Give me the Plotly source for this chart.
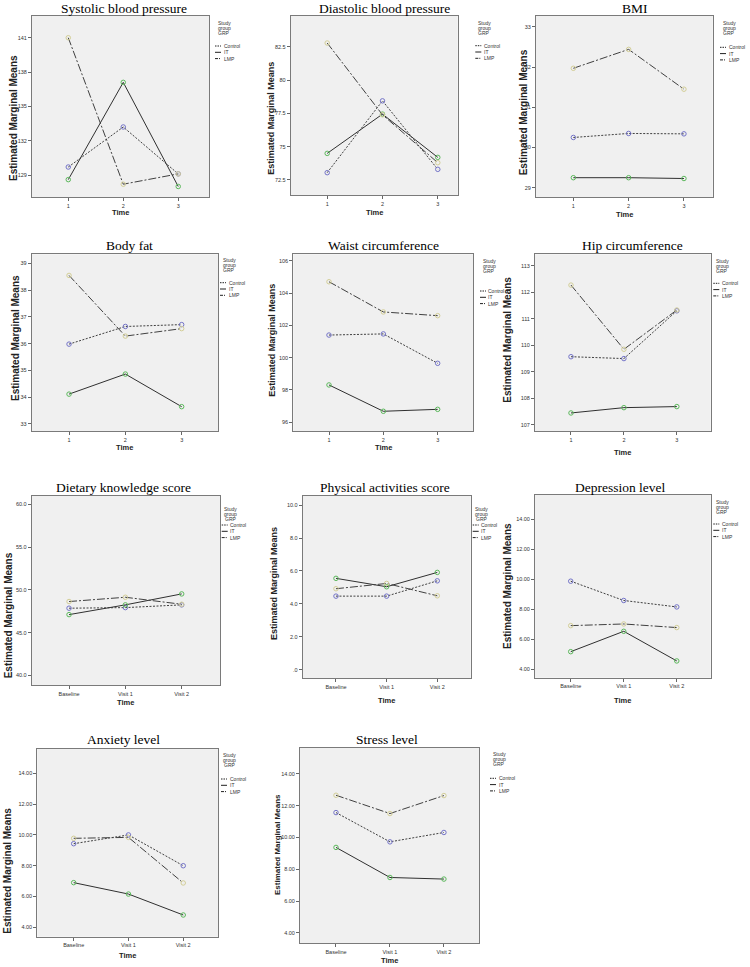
import plotly.graph_objects as go

W, H = 750, 967

# ---------------- data ----------------
titles = ["Systolic blood pressure", "Diastolic blood pressure", "BMI",
          "Body fat", "Waist circumference", "Hip circumference",
          "Dietary knowledge score", "Physical activities score", "Depression level",
          "Anxiety level", "Stress level"]
groups = ["Control", "IT", "LMP"]
time_num = ["1", "2", "3"]
time_visit = ["Baseline", "Visit 1", "Visit 2"]

sbp_control = [129.7, 133.2, 129.1]
sbp_it = [128.6, 137.1, 128.0]
sbp_lmp = [141.0, 128.2, 129.1]

dbp_control = [73.05, 78.45, 73.3]
dbp_it = [74.5, 77.45, 74.2]
dbp_lmp = [82.8, 77.4, 73.8]

bmi_control = [30.25, 30.35, 30.34]
bmi_it = [29.25, 29.25, 29.23]
bmi_lmp = [31.97, 32.44, 31.45]

fat_control = [35.98, 36.64, 36.71]
fat_it = [34.11, 34.86, 33.64]
fat_lmp = [38.55, 36.28, 36.56]

waist_control = [101.4, 101.47, 99.65]
waist_it = [98.31, 96.68, 96.8]
waist_lmp = [104.7, 102.83, 102.6]

hip_control = [109.57, 109.5, 111.3]
hip_it = [107.45, 107.65, 107.69]
hip_lmp = [112.27, 109.85, 111.33]

diet_control = [47.85, 47.92, 48.24]
diet_it = [47.1, 48.24, 49.52]
diet_lmp = [48.63, 49.13, 48.31]

phys_control = [4.47, 4.47, 5.40]
phys_it = [5.55, 5.04, 5.91]
phys_lmp = [4.92, 5.24, 4.49]

dep_control = [9.87, 8.58, 8.15]
dep_it = [5.16, 6.52, 4.54]
dep_lmp = [6.9, 7.01, 6.77]

anx_control = [9.43, 10.0, 8.0]
anx_it = [6.9, 6.16, 4.8]
anx_lmp = [9.78, 9.84, 6.88]

str_control = [11.57, 9.73, 10.32]
str_it = [9.38, 7.49, 7.39]
str_lmp = [12.66, 11.51, 12.64]

sbp_ticks = [129, 132, 135, 138, 141]
dbp_ticks = [72.5, 75, 77.5, 80, 82.5]
bmi_ticks = [29, 30, 31, 32, 33]
fat_ticks = [33, 34, 35, 36, 37, 38, 39]
waist_ticks = [96, 98, 100, 102, 104, 106]
hip_ticks = [107, 108, 109, 110, 111, 112, 113]
diet_ticks = [40, 45, 50, 55, 60]
phys_ticks = [0, 2, 4, 6, 8, 10]
score_ticks = [4, 6, 8, 10, 12, 14]

sbp_labels = ["129", "132", "135", "138", "141"]
dbp_labels = ["72.5", "75", "77.5", "80", "82.5"]
diet_labels = ["40.0", "45.0", "50.0", "55.0", "60.0"]
phys_labels = [".0", "2.0", "4.0", "6.0", "8.0", "10.0"]
score_labels = ["4.00", "6.00", "8.00", "10.00", "12.00", "14.00"]

series = [
    (sbp_control, sbp_it, sbp_lmp, sbp_ticks, sbp_labels, time_num),
    (dbp_control, dbp_it, dbp_lmp, dbp_ticks, dbp_labels, time_num),
    (bmi_control, bmi_it, bmi_lmp, bmi_ticks, [str(v) for v in bmi_ticks], time_num),
    (fat_control, fat_it, fat_lmp, fat_ticks, [str(v) for v in fat_ticks], time_num),
    (waist_control, waist_it, waist_lmp, waist_ticks, [str(v) for v in waist_ticks], time_num),
    (hip_control, hip_it, hip_lmp, hip_ticks, [str(v) for v in hip_ticks], time_num),
    (diet_control, diet_it, diet_lmp, diet_ticks, diet_labels, time_visit),
    (phys_control, phys_it, phys_lmp, phys_ticks, phys_labels, time_visit),
    (dep_control, dep_it, dep_lmp, score_ticks, score_labels, time_visit),
    (anx_control, anx_it, anx_lmp, score_ticks, score_labels, time_visit),
    (str_control, str_it, str_lmp, score_ticks, score_labels, time_visit),
]

# ---------------- layout (pixel geometry) ----------------
# box = (left, top, right, bottom) in px
panels = [
    dict(box=(32, 16, 209, 197), xr=(0.34, 3.56), yr=(127.08, 142.9), tt=(123.7, 8), yt=(14, 118, 10), tm=213, lg=(215, 23.3, 46)),
    dict(box=(290.7, 16, 457.7, 195), xr=(0.34, 3.36), yr=(71.37, 84.83), tt=(384, 8), yt=(270.7, 118, 9), tm=213, lg=(475.3, 23.3, 45.7)),
    dict(box=(536, 16, 712.7, 197), xr=(0.325, 3.52), yr=(28.77, 33.27), tt=(635, 8), yt=(523.3, 112, 10), tm=215, lg=(720, 23.3, 47.3)),
    dict(box=(31.7, 254.3, 218, 431), xr=(0.337, 3.645), yr=(32.73, 39.34), tt=(129.5, 245), yt=(15, 338, 10), tm=448, lg=(220, 260, 282.7)),
    dict(box=(293.3, 254.3, 473.3, 431.3), xr=(0.343, 3.656), yr=(95.44, 106.4), tt=(383.3, 245), yt=(271.7, 340, 9), tm=448, lg=(480, 260.7, 291)),
    dict(box=(535, 254.3, 710.7, 431), xr=(0.32, 3.64), yr=(106.77, 113.43), tt=(632.5, 245), yt=(506.7, 340, 10), tm=453, lg=(713.3, 260.7, 283.3)),
    dict(box=(31.7, 496, 220, 685), xr=(0.337, 3.68), yr=(38.87, 60.97), tt=(123.8, 487), yt=(8.3, 615, 10), tm=702, lg=(221.7, 509, 525)),
    dict(box=(302.7, 496, 470.7, 678), xr=(0.343, 3.66), yr=(-0.5, 10.55), tt=(384.7, 487), yt=(274, 584, 9), tm=700, lg=(472.7, 509, 525)),
    dict(box=(535, 495, 710.7, 677.7), xr=(0.326, 3.64), yr=(3.42, 15.63), tt=(620.7, 487), yt=(507, 586, 10), tm=700, lg=(713.3, 501.7, 524)),
    dict(box=(37.3, 749, 218.3, 936.7), xr=(0.336, 3.64), yr=(3.39, 15.58), tt=(123.8, 739), yt=(6.7, 871, 10), tm=955, lg=(221, 755, 779)),
    dict(box=(300, 747.7, 479, 943), xr=(0.333, 3.65), yr=(3.37, 15.65), tt=(387, 739), yt=(277, 845, 8), tm=960, lg=(490, 754.3, 778.3)),
]

LINE_STYLES = {
    "Control": dict(dash="2px,1.5px", color="#404040", mcolor="#7474c8", leg="1.5px,1px"),
    "IT": dict(dash="solid", color="#303030", mcolor="#5cb85c", leg="solid"),
    "LMP": dict(dash="8px,2px,2px,2px", color="#404040", mcolor="#d3ce97", leg="3px,1px,1px,1px"),
}

SANS = "Liberation Sans, Arial, sans-serif"
SERIF = "Liberation Serif, Times New Roman, serif"


def px(x):
    return x / W


def py(y):
    return 1 - y / H


fig = go.Figure()
layout = dict(width=W, height=H, margin=dict(l=0, r=0, t=0, b=0),
              paper_bgcolor="white", plot_bgcolor="#f0f0f0", showlegend=False)
annotations = []
shapes = []

for i, (pan, ser, title) in enumerate(zip(panels, series, titles)):
    k = "" if i == 0 else str(i + 1)
    l, t, r, b = pan["box"]
    ctrl, it, lmp, yticks, ylabels, xlabels = ser
    for name, vals in zip(groups, (ctrl, it, lmp)):
        st = LINE_STYLES[name]
        fig.add_trace(go.Scatter(
            x=[1, 2, 3], y=vals, mode="lines+markers", name=name,
            xaxis="x" + k, yaxis="y" + k,
            line=dict(color=st["color"], width=1, dash=st["dash"]),
            marker=dict(symbol="circle-open", size=4.5, color=st["mcolor"],
                        line=dict(width=1, color=st["mcolor"])),
            hoverinfo="skip"))
    layout["xaxis" + k] = dict(
        domain=[px(l), px(r)], anchor="y" + k, range=list(pan["xr"]),
        tickmode="array", tickvals=[1, 2, 3], ticktext=xlabels,
        ticks="outside", ticklen=3, tickcolor="#666", tickwidth=1,
        tickfont=dict(family=SANS, size=5.5, color="#333"),
        showline=True, mirror=True, linecolor="#7a7a7a", linewidth=1,
        showgrid=False, zeroline=False, fixedrange=True)
    layout["yaxis" + k] = dict(
        domain=[py(b), py(t)], anchor="x" + k, range=list(pan["yr"]),
        tickmode="array", tickvals=yticks, ticktext=ylabels,
        ticks="outside", ticklen=3, tickcolor="#666", tickwidth=1,
        tickfont=dict(family=SANS, size=5.5, color="#333"),
        showline=True, mirror=True, linecolor="#7a7a7a", linewidth=1,
        showgrid=False, zeroline=False, fixedrange=True)
    # title
    annotations.append(dict(text=title, x=px(pan["tt"][0]), y=py(pan["tt"][1]),
                            xref="paper", yref="paper", showarrow=False,
                            xanchor="center", yanchor="middle",
                            font=dict(family=SERIF, size=13.5, color="black")))
    # y axis title
    yx, yy, ys = pan["yt"]
    annotations.append(dict(text="<b>Estimated Marginal Means</b>", x=px(yx), y=py(yy),
                            xref="paper", yref="paper", showarrow=False, textangle=-90,
                            xanchor="center", yanchor="middle",
                            font=dict(family=SANS, size=ys, color="#222")))
    # x axis title
    annotations.append(dict(text="<b>Time</b>", x=px((l + r) / 2), y=py(pan["tm"]),
                            xref="paper", yref="paper", showarrow=False,
                            xanchor="center", yanchor="middle",
                            font=dict(family=SANS, size=7.5, color="#222")))
    # legend
    lx, sy, ey = pan["lg"]
    for j, word in enumerate(["Study", "group", "GRP"]):
        annotations.append(dict(text=word, x=px(lx + 9), y=py(sy + j * 5),
                                xref="paper", yref="paper", showarrow=False,
                                xanchor="center", yanchor="middle",
                                font=dict(family=SANS, size=5, color="#333")))
    for j, name in enumerate(groups):
        yy_ = ey + j * 6.3
        st = LINE_STYLES[name]
        shapes.append(dict(type="line", xref="paper", yref="paper",
                           x0=px(lx), x1=px(lx + 6), y0=py(yy_), y1=py(yy_),
                           line=dict(color="#202020", width=1, dash=st["leg"])))
        annotations.append(dict(text=name, x=px(lx + 6.5), y=py(yy_),
                                xref="paper", yref="paper", showarrow=False,
                                xanchor="left", yanchor="middle",
                                font=dict(family=SANS, size=5, color="#333")))

layout["annotations"] = annotations
layout["shapes"] = shapes
fig.update_layout(**layout)
fig.write_html("out.html", config={"displayModeBar": False},
               post_script="document.body.style.margin='0';document.body.style.padding='0';")
